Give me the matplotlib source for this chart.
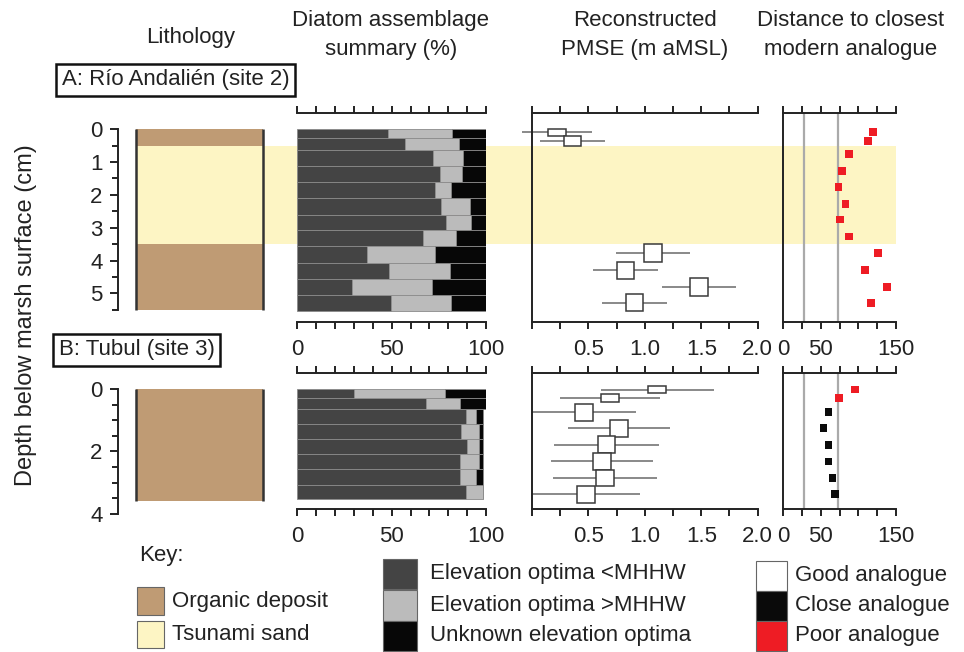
import numpy as np
import matplotlib.pyplot as plt
from matplotlib.patches import Rectangle
from matplotlib.transforms import blended_transform_factory

plt.rcParams['font.family'] = ['Liberation Sans', 'DejaVu Sans']
FS = 16
W, H = 964, 652

# ---------------- data ----------------
# A: Rio Andalien (site 2)
litho_a = [(0.0, 0.5, 'organic'), (0.5, 3.5, 'sand'), (3.5, 5.5, 'organic')]
sand_a = (0.5, 3.5)
edges_a = [0, 0.28, 0.64, 1.13, 1.62, 2.11, 2.6, 3.08, 3.57, 4.06, 4.56, 5.05, 5.55]
below_a = [47.9, 57.3, 72.0, 75.5, 73.0, 75.9, 78.7, 66.5, 37.2, 48.8, 28.9, 49.8]
above_a = [34.2, 28.3, 15.8, 11.7, 8.4, 15.6, 13.5, 17.5, 36.0, 32.1, 42.6, 31.8]
unknown_a = [17.9, 14.4, 12.2, 12.8, 18.6, 8.5, 7.8, 16.0, 26.8, 19.1, 28.5, 18.4]
depth_a = [0.1, 0.36, 0.75, 1.27, 1.77, 2.29, 2.75, 3.27, 3.77, 4.3, 4.8, 5.28]
thick_a = [0.2, 0.3, 0.5, 0.5, 0.5, 0.5, 0.5, 0.5, 0.54, 0.54, 0.54, 0.54]
nan = np.nan
pmse_a = [0.22, 0.36, nan, nan, nan, nan, nan, nan, 1.07, 0.83, 1.48, 0.91]
err_a = [0.31, 0.29, nan, nan, nan, nan, nan, nan, 0.33, 0.29, 0.33, 0.29]
dist_a = [120, 113.6, 87.4, 78.1, 73.7, 83, 75.8, 87.4, 126.4, 109.6, 138.3, 116.6]

# B: Tubul (site 3)
litho_b = [(0.0, 3.58, 'organic')]
edges_b = [0, 0.28, 0.63, 1.12, 1.61, 2.09, 2.57, 3.06, 3.53]
below_b = [30.1, 68.4, 89.2, 86.8, 89.9, 86.4, 86.4, 89.4]
above_b = [48.4, 17.8, 5.6, 9.3, 6.2, 9.7, 8.4, 8.8]
unknown_b = [21.5, 13.8, 3.4, 2.1, 2.1, 2.1, 3.4, 0.0]
depth_b = [0.02, 0.29, 0.74, 1.26, 1.78, 2.32, 2.85, 3.37]
thick_b = [0.24, 0.27, 0.54, 0.54, 0.54, 0.53, 0.53, 0.54]
pmse_b = [1.11, 0.69, 0.46, 0.77, 0.66, 0.62, 0.645, 0.48]
err_b = [0.5, 0.44, 0.46, 0.455, 0.465, 0.455, 0.46, 0.48]
dist_b = [95.8, 74.1, 60.4, 53.7, 60.4, 60.4, 65.7, 68.8]

analogue_cut = [28, 73]   # good / close thresholds

# ---------------- style ----------------
C_ORG = '#bf9b74'
C_SAND = '#fdf5c4'
C_BELOW = '#444444'
C_ABOVE = '#bbbbbb'
C_UNK = '#070707'
C_GOOD, C_CLOSE, C_POOR = 'white', '#0a0a0a', '#ee1c24'
SPINE = '#222222'
LW = 1.4

fig = plt.figure(figsize=(W / 100, H / 100), dpi=100)


def px_axes(x0, x1, y0, y1):
    ax = fig.add_axes([x0 / W, 1 - y1 / H, (x1 - x0) / W, (y1 - y0) / H])
    ax.set_facecolor('none')
    for s in ax.spines.values():
        s.set_color(SPINE)
        s.set_linewidth(LW)
    ax.tick_params(colors=SPINE, width=LW, length=5, direction='out',
                   labelsize=FS, labelcolor='#222')
    return ax


def lithology(ax, units, ylim, bottom, major):
    ax.set_xlim(0, 1)
    ax.set_ylim(*ylim)
    for top, bot, kind in units:
        ax.axhspan(top, bot, color=C_ORG if kind == 'organic' else C_SAND, lw=0)
    ax.vlines([0, 1], 0, units[-1][1], color='#333', lw=1.8, clip_on=False)
    for s in ['top', 'right', 'bottom']:
        ax.spines[s].set_visible(False)
    ax.spines['left'].set_position(('outward', 13))
    ax.spines['left'].set_bounds(0, bottom)
    ax.set_xticks([])
    ax.set_yticks(major)
    ax.set_yticks(np.arange(0, bottom + 0.01, 0.5), minor=True)
    ax.tick_params(axis='y', which='major', length=6, pad=5)
    ax.tick_params(axis='y', which='minor', length=4, width=LW, color=SPINE)


def diatoms(ax, edges, below, above, unknown, ylim):
    e = np.array(edges)
    y = (e[:-1] + e[1:]) / 2
    h = np.diff(e)
    b, a = np.array(below), np.array(above)
    kw = dict(height=h, edgecolor='#8a8a8a', linewidth=0.6)
    ax.barh(y, b, color=C_BELOW, **kw)
    ax.barh(y, a, left=b, color=C_ABOVE, **kw)
    ax.barh(y, unknown, left=b + a, color=C_UNK, **kw)
    ax.set_xlim(0, 100)
    ax.set_ylim(*ylim)
    ax.spines['left'].set_visible(False)
    ax.spines['right'].set_visible(False)
    ax.set_yticks([])
    ax.set_xticks(np.arange(0, 101, 10))
    ax.set_xticklabels(['0', '', '', '', '', '50', '', '', '', '', '100'])
    ax.tick_params(axis='x', top=True, labeltop=False, pad=7)


def pmse(ax, depth, val, err, thick, ylim):
    ax.set_xlim(0, 2)
    ax.set_ylim(*ylim)
    for d, v, e, t in zip(depth, val, err, thick):
        if np.isnan(v):
            continue
        ax.hlines(d, v - e, v + e, color='#808080', lw=1.3, clip_on=False, zorder=2)
        ax.add_patch(Rectangle((v - 0.078, d - t / 2), 0.156, t, fc='white',
                               ec='#3a3a3a', lw=1.1, zorder=3))
    ax.spines['right'].set_visible(False)
    ax.set_yticks([])
    ax.set_xticks(np.arange(0, 2.01, 0.25))
    ax.set_xticklabels(['', '', '0.5', '', '1.0', '', '1.5', '', '2.0'])
    ax.tick_params(axis='x', top=True, labeltop=False, pad=7)


def distance(ax, depth, dist, ylim):
    ax.set_xlim(0, 150)
    ax.set_ylim(*ylim)
    for c in analogue_cut:
        ax.axvline(c, color='#aaaaaa', lw=1.6, zorder=1)
    cols = [C_GOOD if v < analogue_cut[0] else C_CLOSE if v < analogue_cut[1] else C_POOR
            for v in dist]
    ax.scatter(dist, depth, marker='s', s=32, c=cols, edgecolors='none', zorder=3)
    ax.spines['right'].set_visible(False)
    ax.set_yticks([])
    ax.set_xticks(np.arange(0, 151, 25))
    ax.set_xticklabels(['0', '', '50', '', '', '', '150'])
    ax.tick_params(axis='x', top=True, labeltop=False, pad=7)


# ---------------- panel A ----------------
ylim_a = (5.87, -0.5)
ax = px_axes(136, 263, 112.7, 322)
lithology(ax, litho_a, ylim_a, 5.5, range(0, 6))
lith_a = ax
diatoms(px_axes(297.3, 486, 112.7, 322), edges_a, below_a, above_a, unknown_a, ylim_a)
pmse(px_axes(532, 757.7, 112.7, 322), depth_a, pmse_a, err_a, thick_a, ylim_a)
distance(px_axes(783.3, 895.7, 112.7, 322), depth_a, dist_a, ylim_a)

# tsunami sand band across all columns
tr = blended_transform_factory(fig.transFigure, lith_a.transData)
fig.patches.append(Rectangle((136 / W, sand_a[0]), (896 - 136) / W, sand_a[1] - sand_a[0],
                             transform=tr, fc=C_SAND, ec='none', zorder=-1))

# ---------------- panel B ----------------
ylim_b = (3.84, -0.5)
lithology(px_axes(136, 263, 373.3, 520.2), litho_b, (4.2, -0.5), 4.0, [0, 2, 4])
diatoms(px_axes(297.3, 486, 373.3, 509), edges_b, below_b, above_b, unknown_b, ylim_b)
pmse(px_axes(532, 757.7, 373.3, 509), depth_b, pmse_b, err_b, thick_b, ylim_b)
distance(px_axes(783.3, 895.7, 373.3, 509), depth_b, dist_b, ylim_b)

# ---------------- text ----------------
def ftext(x, y, s, **kw):
    kw.setdefault('fontsize', FS)
    kw.setdefault('color', '#222')
    return fig.text(x / W, 1 - y / H, s, **kw)


ftext(191, 38, 'Lithology', ha='center', va='center')
ftext(391, 35, 'Diatom assemblage\nsummary (%)', ha='center', va='center', linespacing=1.45)
ftext(645, 35, 'Reconstructed\nPMSE (m aMSL)', ha='center', va='center', linespacing=1.45)
ftext(851, 35, 'Distance to closest\nmodern analogue', ha='center', va='center', linespacing=1.45)
ftext(26, 315, 'Depth below marsh surface (cm)', ha='center', va='center', rotation=90,
      fontsize=17)

box = dict(boxstyle='square,pad=0.25', fc='white', ec='#111', lw=1.8)
ftext(62, 80, 'A: Río Andalién (site 2)', ha='left', va='center', bbox=box)
ftext(59, 350, 'B: Tubul (site 3)', ha='left', va='center', bbox=box)

# ---------------- key ----------------
def key(x, y, w, h, color, label, tx):
    fig.patches.append(Rectangle((x / W, 1 - (y + h) / H), w / W, h / H,
                                 transform=fig.transFigure, fc=color, ec='#666', lw=0.8))
    ftext(tx, y + h / 2, label, ha='left', va='center')


ftext(139, 555, 'Key:', ha='left', va='center')
key(137, 587, 27, 28, C_ORG, 'Organic deposit', 172)
key(137, 621, 27, 27, C_SAND, 'Tsunami sand', 172)
key(383, 559, 34, 30, C_BELOW, 'Elevation optima <MHHW', 430)
key(383, 590, 34, 31, C_ABOVE, 'Elevation optima >MHHW', 430)
key(383, 621, 34, 30, C_UNK, 'Unknown elevation optima', 430)
key(756, 561, 31, 30, C_GOOD, 'Good analogue', 795)
key(756, 591, 31, 30, C_CLOSE, 'Close analogue', 795)
key(756, 621, 31, 30, C_POOR, 'Poor analogue', 795)

fig.savefig('out.png', dpi=100)
